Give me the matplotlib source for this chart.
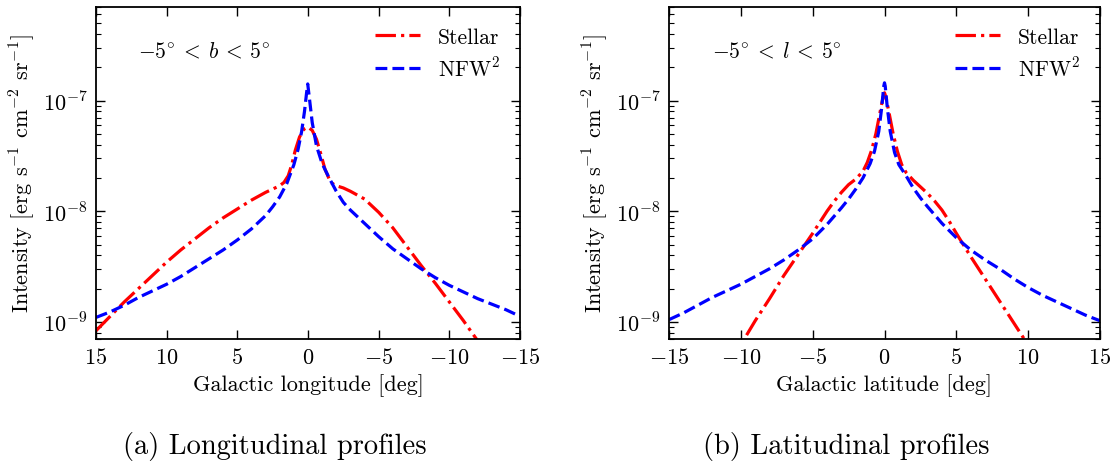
import numpy as np
import matplotlib
matplotlib.use("Agg")
import matplotlib.pyplot as plt

plt.rcParams['font.family'] = 'serif'
plt.rcParams['font.serif'] = ['cmr10']
plt.rcParams['mathtext.fontset'] = 'cm'
plt.rcParams['axes.formatter.use_mathtext'] = True
plt.rcParams['axes.unicode_minus'] = False

# ---------------- data (log10 intensity) ----------------
# Longitudinal profiles (-5 < b < 5)
lon_stellar_x = [15, 14, 13, 12, 11, 10, 9, 8, 7, 6, 5, 4, 3, 2.5, 2, 1.7, 1.4, 1.15, 0.9, 0.6, 0.3, 0.0,
                 -0.3, -0.6, -0.9, -1.2, -1.6, -2, -2.5, -3, -4, -5, -6, -7, -8, -9, -10, -11, -12]
lon_stellar_logI = [-9.08, -8.95, -8.82, -8.70, -8.58, -8.46, -8.35, -8.25, -8.15, -8.06, -7.98, -7.90,
                    -7.83, -7.80, -7.77, -7.74, -7.68, -7.58, -7.45, -7.33, -7.26, -7.24,
                    -7.27, -7.35, -7.48, -7.62, -7.74, -7.77, -7.79, -7.82, -7.89, -8.01, -8.15, -8.32,
                    -8.49, -8.65, -8.82, -8.99, -9.17]
lon_nfw_x = [15, 14, 13, 12, 11, 10, 9, 8, 7, 6, 5, 4, 3, 2.5, 2, 1.5, 1.0, 0.7, 0.45, 0.25, 0.1, 0.02,
             -0.1, -0.3, -0.6, -1, -1.5, -2, -2.5, -3, -4, -5, -6, -7, -8, -9, -10, -11, -12, -13, -14, -15]
lon_nfw_logI = [-8.96, -8.91, -8.85, -8.78, -8.72, -8.66, -8.59, -8.51, -8.43, -8.35, -8.26, -8.16, -8.04,
                -7.96, -7.87, -7.75, -7.58, -7.44, -7.28, -7.10, -6.93, -6.85,
                -6.98, -7.20, -7.41, -7.57, -7.70, -7.82, -7.92, -7.99, -8.11, -8.23, -8.34, -8.43,
                -8.52, -8.60, -8.67, -8.73, -8.79, -8.84, -8.89, -8.95]

# Latitudinal profiles (-5 < l < 5)
lat_stellar_x = [-9.6, -9, -8, -7, -6, -5, -4.5, -4, -3.5, -3, -2.5, -2, -1.5, -1.2, -0.9, -0.6, -0.3, -0.1,
                 0.0, 0.1, 0.3, 0.6, 0.9, 1.2, 1.5, 2, 2.5, 3, 3.5, 4, 4.5, 5, 6, 7, 8, 9, 10]
lat_stellar_logI = [-9.12, -8.99, -8.79, -8.58, -8.39, -8.20, -8.10, -8.00, -7.91, -7.83, -7.76, -7.71,
                    -7.64, -7.56, -7.45, -7.30, -7.10, -6.97, -6.93, -6.97, -7.10, -7.30, -7.46, -7.58,
                    -7.65, -7.72, -7.78, -7.84, -7.91, -7.99, -8.09, -8.20, -8.41, -8.61, -8.81, -9.01,
                    -9.21]
lat_nfw_x = [-15, -14, -13, -12, -11, -10, -9, -8, -7, -6, -5, -4, -3, -2.5, -2, -1.5, -1, -0.7, -0.4,
             -0.2, -0.05, 0.0, 0.05, 0.2, 0.4, 0.7, 1, 1.5, 2, 2.5, 3, 4, 5, 6, 7, 8, 9, 10, 11, 12, 13,
             14, 15]
lat_nfw_logI = [-8.98, -8.92, -8.85, -8.78, -8.72, -8.66, -8.59, -8.52, -8.44, -8.35, -8.25, -8.12, -7.97,
                -7.89, -7.80, -7.70, -7.57, -7.46, -7.28, -7.07, -6.87, -6.84, -6.87, -7.07, -7.28,
                -7.47, -7.58, -7.68, -7.79, -7.88, -7.96, -8.11, -8.24, -8.35, -8.44, -8.52, -8.61,
                -8.69, -8.76, -8.82, -8.88, -8.94, -8.99]

xticks_lon = [15, 10, 5, 0, -5, -10, -15]
xticks_lat = [-15, -10, -5, 0, 5, 10, 15]
yticks = [1e-9, 1e-8, 1e-7]
ytick_labels = [r'$10^{-9}$', r'$10^{-8}$', r'$10^{-7}$']
labels = ['Stellar', r'NFW$^2$']

# ---------------- figure ----------------
fig = plt.figure(figsize=(11.12, 4.64), dpi=100)
axL = fig.add_axes([96/1112, 1-340/464, 424/1112, 332/464])
axR = fig.add_axes([669/1112, 1-340/464, 431/1112, 332/464])

def style(ax, xticks, xlabel, ann):
    ax.set_yscale('log')
    ax.set_ylim(7e-10, 7e-7)
    ax.set_yticks(yticks)
    ax.set_yticklabels(ytick_labels)
    ax.set_xticks(xticks)
    ax.set_xticklabels([r'$%d$' % t for t in xticks])
    ax.tick_params(which='both', direction='in', top=True, right=True, labelsize=16)
    ax.tick_params(which='major', length=6.5, width=1.0, pad=6)
    ax.tick_params(which='minor', length=3.5, width=0.8)
    ax.tick_params(axis='x', which='minor', bottom=False, top=False)
    for s in ax.spines.values():
        s.set_linewidth(1.3)
    ax.set_xlabel(xlabel, fontsize=16, labelpad=4)
    ax.set_ylabel(r'Intensity [erg s$^{-1}$ cm$^{-2}$ sr$^{-1}$]', fontsize=16, labelpad=4)
    ax.text(0.10, 0.868, ann, transform=ax.transAxes, fontsize=15.5, va='center', ha='left')
    ax.legend(loc='upper right', frameon=False, fontsize=15.5, handlelength=2.1,
              borderaxespad=0.55, labelspacing=0.4, handletextpad=0.8)

axL.plot(lon_stellar_x, 10**np.array(lon_stellar_logI), color='#ff0000', ls='-.', lw=2.3, label=labels[0])
axL.plot(lon_nfw_x, 10**np.array(lon_nfw_logI), color='#0000ff', ls='--', lw=2.3, label=labels[1])
axL.set_xlim(15, -15)
style(axL, xticks_lon, 'Galactic longitude [deg]', r'$-5^{\circ}\:<\:b\:<\:5^{\circ}$')

axR.plot(lat_stellar_x, 10**np.array(lat_stellar_logI), color='#ff0000', ls='-.', lw=2.3, label=labels[0])
axR.plot(lat_nfw_x, 10**np.array(lat_nfw_logI), color='#0000ff', ls='--', lw=2.3, label=labels[1])
axR.set_xlim(-15, 15)
style(axR, xticks_lat, 'Galactic latitude [deg]', r'$-5^{\circ}\:<\:l\:<\:5^{\circ}$')

fig.text(275/1112, 1-447/464, '(a) Longitudinal profiles', fontsize=20.5, ha='center', va='center')
fig.text(846/1112, 1-447/464, '(b) Latitudinal profiles', fontsize=20.5, ha='center', va='center')

fig.savefig('out.png', dpi=100)
